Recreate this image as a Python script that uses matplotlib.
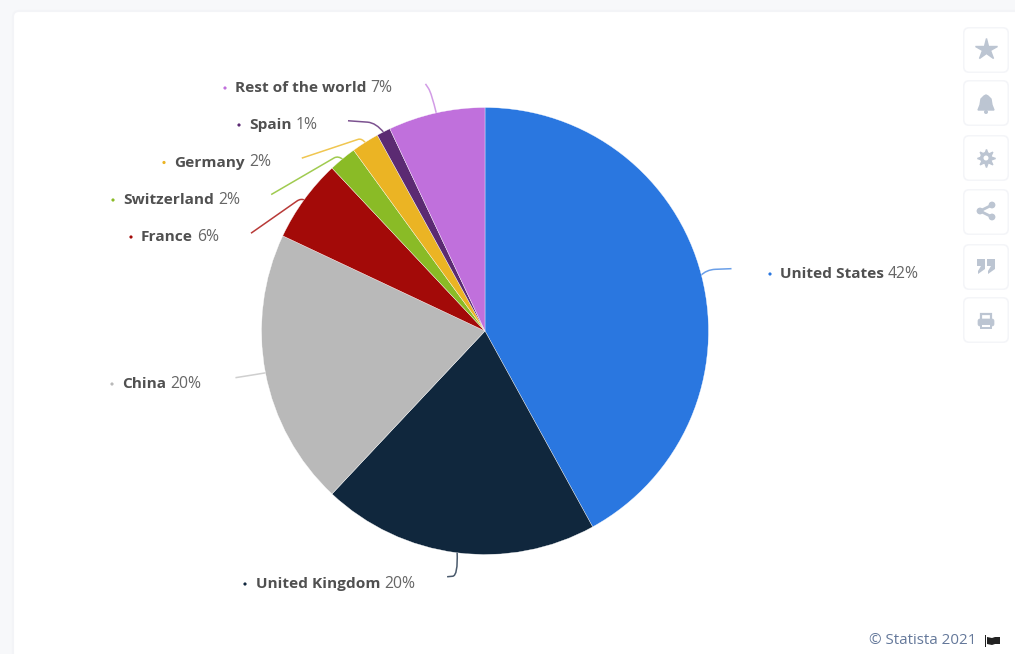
import matplotlib
matplotlib.use("Agg")
import matplotlib.pyplot as plt
import numpy as np
from matplotlib.patches import FancyBboxPatch, PathPatch, Rectangle, Circle, Polygon
from matplotlib.path import Path

W, H = 1015, 654

# Share of the total by country, clockwise from twelve o'clock
countries = ["United States", "United Kingdom", "China", "France",
             "Switzerland", "Germany", "Spain", "Rest of the world"]
shares = [42, 20, 20, 6, 2, 2, 1, 7]
colors = ["#2a77e0", "#10273d", "#b9b9b9", "#a30a08",
          "#8abb26", "#ebb424", "#5b2a72", "#c070dc"]
leader_colors = ["#6a9fe8", "#4a5a6c", "#cfcfcf", "#b83a38",
                 "#a0cb50", "#f0c650", "#7c5290", "#d29ce6"]

# Label layout in pixels from the top-left corner: bullet x, text x, centre y
label_pos = [(770, 780, 274), (245, 256, 584), (112, 122, 384), (131, 141, 237),
             (113, 123, 200), (164, 174.5, 162.5), (239, 249, 125), (225, 235, 88)]
# Leader bend, end point (both relative to the slice edge) and how far along
# the outer run the bend finishes
leader_ctrl = [(6, -6), (1, 24), (-12, 2), (-4, -2), (-5, -4), (-4, -5), (-8, -10), (-5, -21)]
leader_end = [(31, -7), (-10, 25), (-31, 5), (-54, 33), (-72, 35), (-64, 15), (-36, -12), (-11, -30)]
leader_bend = [0.35, 0.5, 0.4, 0.08, 0.06, 0.06, 0.3, 0.5]

CENTER = (485, 331)
RADIUS = 223.5
TEXT = "#505050"


def fy(y):
    return H - y


fig = plt.figure(figsize=(W / 100, H / 100), dpi=100, facecolor="#f7f8fa")
ax = fig.add_axes([0, 0, 1, 1])

# Card behind the chart
ax.add_patch(FancyBboxPatch((13, -30), W + 30, fy(11) + 30,
                            boxstyle="round,pad=0,rounding_size=6",
                            fc="white", ec="#f3f4f7", lw=1.5, zorder=0))

ax.pie(shares, colors=colors, startangle=90, counterclock=False,
       center=(CENTER[0], fy(CENTER[1])), radius=RADIUS,
       wedgeprops=dict(edgecolor="#ffffff", linewidth=0.25, zorder=2), frame=True)

ax.set_xlim(0, W)
ax.set_ylim(0, H)
ax.set_aspect("equal")
ax.axis("off")
ax.set_position([0, 0, 1, 1])

renderer = fig.canvas.get_renderer()
cumulative = np.cumsum([0] + shares)
for i, name in enumerate(countries):
    mid = (cumulative[i] + cumulative[i + 1]) / 2 / sum(shares) * 2 * np.pi
    sx = CENTER[0] + (RADIUS - 1) * np.sin(mid)
    sy = CENTER[1] - (RADIUS - 1) * np.cos(mid)
    cx, cy = leader_ctrl[i]
    ex, ey = leader_end[i]
    f = leader_bend[i]
    bx_, by_ = cx + (ex - cx) * f, cy + (ey - cy) * f
    path = Path([(sx, fy(sy)), (sx + cx, fy(sy + cy)), (sx + bx_, fy(sy + by_)),
                 (sx + ex, fy(sy + ey))],
                [Path.MOVETO, Path.CURVE3, Path.CURVE3, Path.LINETO])
    ax.add_patch(PathPatch(path, fc="none", ec=leader_colors[i], lw=1.1, zorder=1))

    bx, tx, ty = label_pos[i]
    ax.add_patch(Circle((bx, fy(ty)), 1.6, fc=colors[i], ec="none"))
    t = ax.text(tx, fy(ty), name, family="Open Sans", fontweight="bold", fontsize=11.05,
                color=TEXT, va="center", ha="left")
    right = ax.transData.inverted().transform(t.get_window_extent(renderer))[1, 0]
    ax.text(right + 4, fy(ty), f"{shares[i]}%", family="Open Sans", fontsize=11.3,
            color="#666666", va="center", ha="left")

# Toolbar buttons on the right edge
ICON = "#bcc5d2"
button_tops = [28, 81, 136, 190, 245, 298]
for top in button_tops:
    ax.add_patch(FancyBboxPatch((963, fy(top + 45)), 46, 46,
                                boxstyle="round,pad=0,rounding_size=6",
                                fc="#f4f5f8", ec="none", zorder=3))
    ax.add_patch(FancyBboxPatch((964.5, fy(top + 43.5)), 43, 43,
                                boxstyle="round,pad=0,rounding_size=5",
                                fc="white", ec="none", zorder=3))
ix = 986
# star
ax.plot([ix], [fy(49)], marker="*", ms=16, mfc=ICON, mec=ICON, zorder=4)
# bell
ax.add_patch(Polygon([(ix - 8, fy(110)), (ix + 8, fy(110)), (ix + 6, fy(105)), (ix + 5, fy(99)),
                      (ix + 2, fy(96)), (ix, fy(95)), (ix - 2, fy(96)), (ix - 5, fy(99)),
                      (ix - 6, fy(105))], fc=ICON, ec=ICON, zorder=4))
ax.add_patch(Circle((ix, fy(112)), 2, fc=ICON, ec="none", zorder=4))
# gear
ax.plot([ix], [fy(158)], marker=(8, 1, 0), ms=13, mfc=ICON, mec=ICON, zorder=4)
ax.add_patch(Circle((ix, fy(158)), 6, fc=ICON, ec="none", zorder=4))
ax.add_patch(Circle((ix, fy(158)), 2.5, fc="white", ec="none", zorder=5))
# share
share_pts = [(ix + 6, fy(205)), (ix - 6, fy(211)), (ix + 6, fy(217))]
ax.plot(*zip(*share_pts), color=ICON, lw=2, zorder=4)
for p in share_pts:
    ax.add_patch(Circle(p, 3.4, fc=ICON, ec="none", zorder=4))
# quotation mark
for qx in (ix - 5, ix + 5):
    ax.add_patch(Rectangle((qx - 4, fy(266)), 8, 7, fc=ICON, ec="none", zorder=4))
    ax.add_patch(Polygon([(qx + 4, fy(266)), (qx + 4, fy(269)), (qx - 3, fy(274)), (qx - 3, fy(271)),
                          (qx, fy(266))], fc=ICON, ec="none", zorder=4))
# printer
ax.add_patch(Rectangle((ix - 5, fy(322)), 10, 8, fc="white", ec=ICON, lw=1.6, zorder=4))
ax.add_patch(FancyBboxPatch((ix - 8, fy(326)), 16, 7, boxstyle="round,pad=0,rounding_size=2",
                            fc=ICON, ec=ICON, lw=0.5, zorder=5))
ax.add_patch(Rectangle((ix - 5, fy(328)), 10, 4, fc="white", ec=ICON, lw=1.4, zorder=6))

# Source line and flag
ax.text(976, fy(641), "\u00a9 Statista 2021", family="Open Sans", fontsize=10.9,
        color="#64789a", ha="right", va="center")
ax.add_patch(Rectangle((985, fy(647)), 1.4, 12, fc="#222222", ec="none"))
ax.add_patch(Polygon([(987, fy(637)), (992, fy(638)), (995, fy(637)), (1000, fy(637)),
                      (1000, fy(644)), (995, fy(644)), (992, fy(645)), (987, fy(644))],
                     fc="#222222", ec="none"))

fig.savefig("out.png", dpi=100, facecolor=fig.get_facecolor())
